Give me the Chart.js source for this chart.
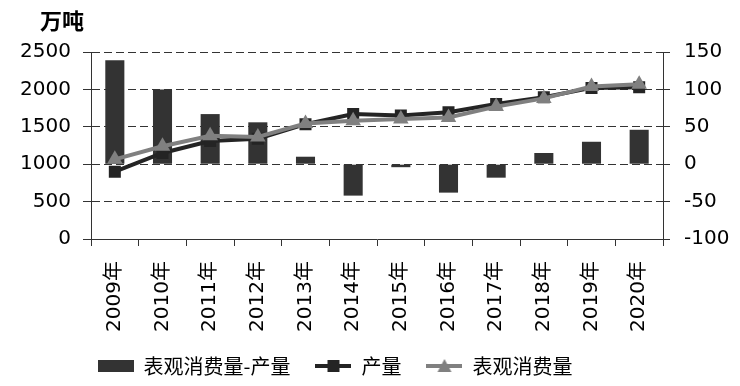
<!DOCTYPE html>
<html>
<head>
<meta charset="utf-8">
<script src="https://cdn.jsdelivr.net/npm/chart.js@4.4.1/dist/chart.umd.min.js"></script>
<style>
  html, body { margin: 0; padding: 0; background: #fff; }
  #wrap { width: 740px; height: 386px; }
</style>
</head>
<body>
<div id="wrap"><canvas id="chart"></canvas></div>
<script>
const years = ["2009年", "2010年", "2011年", "2012年", "2013年", "2014年", "2015年", "2016年", "2017年", "2018年", "2019年", "2020年"];
const diffValues = [139, 100, 67, 56, 10, -42, -4, -38, -18, 15, 30, 46];          // 表观消费量-产量 (right axis)
const outputValues = [900, 1150, 1310, 1340, 1535, 1670, 1650, 1695, 1805, 1895, 2020, 2030];   // 产量
const consumeValues = [1065, 1240, 1380, 1365, 1545, 1580, 1605, 1625, 1770, 1880, 2040, 2070]; // 表观消费量
const leftRange = { min: 0, max: 2500, step: 500 };
const rightRange = { min: -100, max: 150, step: 50 };

const FONT = "'DejaVu Sans', 'Noto Sans CJK SC', sans-serif";
const CJK = "'Noto Sans CJK SC', 'DejaVu Sans', sans-serif";
const BAR = "#333333", DARK = "#242424", GREY = "#808080";

// small legend icons
function makeIcon(kind) {
    const c = document.createElement("canvas");
    c.width = 36; c.height = 14;
    const g = c.getContext("2d");
    if (kind === "bar") {
        g.fillStyle = BAR;
        g.fillRect(0, 1, 36, 12);
    } else if (kind === "rect") {
        g.strokeStyle = DARK; g.lineWidth = 4;
        g.beginPath(); g.moveTo(0, 7); g.lineTo(36, 7); g.stroke();
        g.fillStyle = DARK; g.fillRect(12, 1, 12, 12);
    } else {
        g.strokeStyle = GREY; g.lineWidth = 4;
        g.beginPath(); g.moveTo(0, 7); g.lineTo(36, 7); g.stroke();
        g.fillStyle = GREY;
        g.beginPath(); g.moveTo(18, 0); g.lineTo(25, 13); g.lineTo(11, 13); g.closePath(); g.fill();
    }
    return c;
}
const icons = [makeIcon("bar"), makeIcon("rect"), makeIcon("tri")];

const unitLabel = {
    id: "unitLabel",
    afterDraw(chart) {
        const ctx = chart.ctx;
        ctx.save();
        ctx.font = "bold 22px " + CJK;
        ctx.fillStyle = "#000";
        ctx.textBaseline = "middle";
        ctx.fillText("万吨", 40, 21);
        ctx.restore();
    }
};

const legendShift = {
    id: "legendShift",
    afterLayout(chart) {
        chart.legend.left -= 35;
        chart.legend.right -= 35;
    }
};

const ctx = document.getElementById("chart").getContext("2d");
new Chart(ctx, {
    type: "bar",
    data: {
        labels: years,
        datasets: [
            {
                type: "bar",
                label: "表观消费量-产量",
                data: diffValues,
                yAxisID: "y2",
                backgroundColor: BAR,
                barPercentage: 0.4,
                categoryPercentage: 1,
                order: 3
            },
            {
                type: "line",
                label: "产量",
                data: outputValues,
                yAxisID: "y",
                borderColor: DARK,
                backgroundColor: DARK,
                borderWidth: 4,
                pointStyle: "rect",
                pointRadius: 8.5,
                pointBorderWidth: 0,
                fill: false,
                order: 2
            },
            {
                type: "line",
                label: "表观消费量",
                data: consumeValues,
                yAxisID: "y",
                borderColor: GREY,
                backgroundColor: GREY,
                borderWidth: 4,
                pointStyle: "triangle",
                pointRadius: 9,
                pointBorderWidth: 0,
                fill: false,
                order: 1
            }
        ]
    },
    options: {
        animation: false,
        responsive: true,
        maintainAspectRatio: false,
        layout: { padding: { top: 52, left: 0, right: 0, bottom: 0 } },
        plugins: {
            tooltip: { enabled: false },
            legend: {
                position: "bottom",
                labels: {
                    usePointStyle: true,
                    pointStyleWidth: 36,
                    boxHeight: 14,
                    padding: 25,
                    color: "#000",
                    font: { family: CJK, size: 20 },
                    generateLabels: function () {
                        return ["表观消费量-产量", "产量", "表观消费量"].map((t, i) => ({
                            text: t,
                            pointStyle: icons[i],
                            fillStyle: "#fff",
                            strokeStyle: "#fff",
                            lineWidth: 0,
                            hidden: false,
                            datasetIndex: i
                        }));
                    }
                }
            }
        },
        scales: {
            x: {
                offset: true,
                grid: { offset: true, drawOnChartArea: false, drawTicks: true, tickLength: 7, color: "#333" },
                border: { color: "#333", width: 1 },
                ticks: { minRotation: 90, maxRotation: 90, autoSkip: false, padding: 15, color: "#000", font: { family: FONT, size: 20 } },
                afterFit(scale) { scale.height = 92; }
            },
            y: {
                position: "left",
                min: leftRange.min,
                max: leftRange.max,
                grid: { color: "#333", lineWidth: 1, tickLength: 8, drawOnChartArea: true },
                border: { color: "#333", width: 1, dash: [8, 4] },
                ticks: { stepSize: leftRange.step, padding: 12, color: "#000", font: { family: FONT, size: 20 }, callback: v => String(v) },
                afterFit(scale) { scale.width = 91; }
            },
            y2: {
                position: "right",
                min: rightRange.min,
                max: rightRange.max,
                grid: { drawOnChartArea: false, color: "#333", tickLength: 7 },
                border: { color: "#333", width: 1 },
                ticks: { stepSize: rightRange.step, padding: 14, color: "#000", font: { family: FONT, size: 20 }, callback: v => String(v) },
                afterFit(scale) { scale.width = 77; }
            }
        }
    },
    plugins: [unitLabel, legendShift]
});
</script>
</body>
</html>
